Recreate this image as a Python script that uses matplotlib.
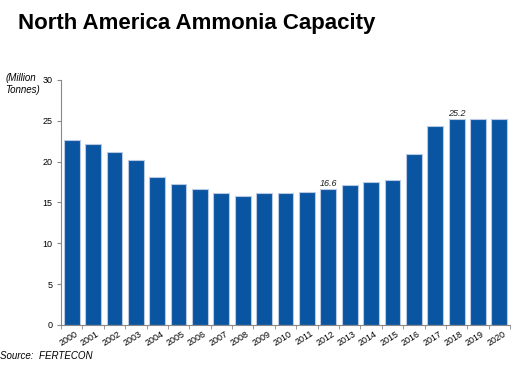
import numpy as np
import matplotlib.pyplot as plt

years = [str(y) for y in range(2000, 2021)]
capacity = [22.7, 22.2, 21.2, 20.2, 18.1, 17.2, 16.7, 16.1, 15.8, 16.1, 16.2,
            16.3, 16.6, 17.1, 17.5, 17.7, 20.9, 24.4, 25.2, 25.2, 25.2]
labelled = {2012: '16.6', 2018: '25.2'}
yticks = [0, 5, 10, 15, 20, 25, 30]

plt.rcParams['font.family'] = ['Liberation Sans', 'DejaVu Sans']

fig = plt.figure(figsize=(5.21, 3.65), dpi=100)
ax = fig.add_axes([0.117, 0.11, 0.862, 0.671])

x = np.arange(len(years))
ax.bar(x, capacity, width=0.74, color='#0A55A2', edgecolor='#B9C9E3', linewidth=0.8)

for yr, txt in labelled.items():
    i = int(yr) - 2000
    ax.text(x[i], capacity[i] + 0.15, txt, ha='center', va='bottom',
            fontsize=6.5, style='italic', color='#222222')

ax.set_xlim(-0.5, len(years) - 0.5)
ax.set_ylim(0, 30)
ax.set_yticks(yticks)
ax.tick_params(axis='y', labelsize=6.5, length=3, color='#888888', pad=3)
ax.set_xticks(x + 0.15)
ax.set_xticklabels(years, rotation=32, fontsize=6.5, ha='right', rotation_mode='anchor')
ax.set_xticks(np.arange(-0.5, len(years)), minor=True)
ax.tick_params(axis='x', which='major', length=0, pad=3)
ax.tick_params(axis='x', which='minor', length=3, color='#888888')

for s in ['top', 'right']:
    ax.spines[s].set_visible(False)
for s in ['left', 'bottom']:
    ax.spines[s].set_color('#888888')
    ax.spines[s].set_linewidth(0.8)

fig.text(0.035, 0.965, 'North America Ammonia Capacity', fontsize=16,
         fontweight='bold', va='top', ha='left')
fig.text(0.01, 0.80, '(Million\nTonnes)', fontsize=7, style='italic',
         va='top', ha='left', linespacing=1.3)
fig.text(0.0, 0.012, 'Source:  FERTECON', fontsize=7, style='italic',
         va='bottom', ha='left')

fig.savefig('out.png', dpi=100)
